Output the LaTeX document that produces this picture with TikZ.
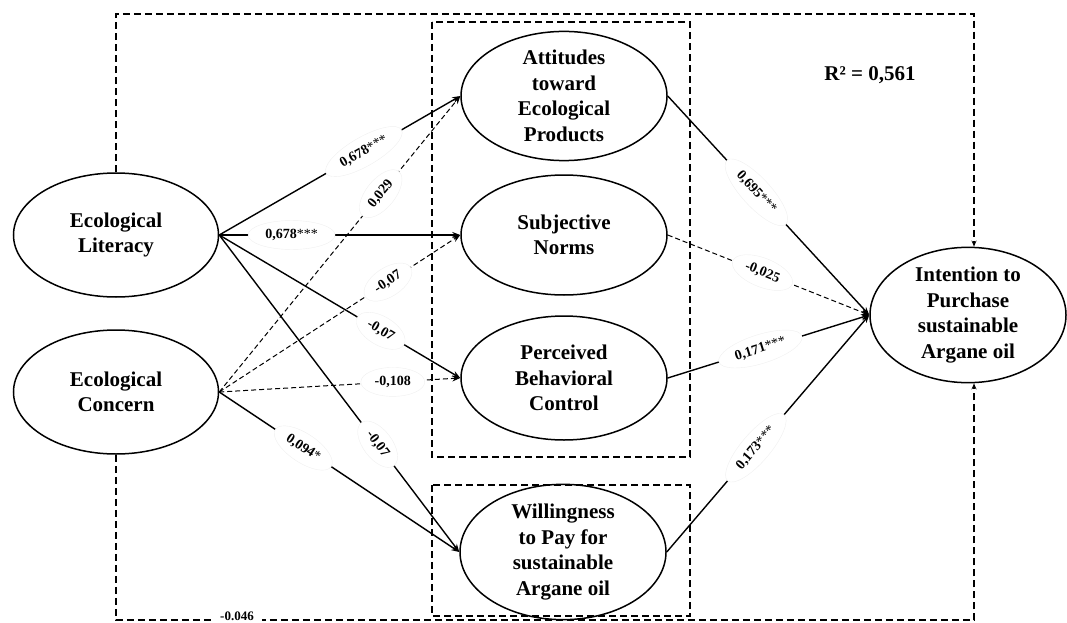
\documentclass[tikz,border=0pt]{standalone}
\usepackage{fontspec}
\setmainfont{Liberation Serif}
\usetikzlibrary{shapes.geometric,arrows.meta}
\begin{document}
\begin{tikzpicture}[x=1pt,y=-1pt,
  lat/.style={ellipse, draw, line width=1.5pt, inner sep=0pt, align=center,
    font=\fontsize{21}{25.5}\selectfont\bfseries},
  lbl/.style={ellipse, fill=white, draw=black!6, line width=0.4pt, inner sep=4.5pt,
    font=\fontsize{14}{16}\selectfont\bfseries},
  sol/.style={line width=1.4pt, -{Stealth[length=8pt,width=6pt]}},
  dsh/.style={line width=1pt, dash pattern=on 5pt off 3pt, -{Stealth[length=8pt,width=6pt]}},
  outer/.style={line width=1.3pt, dash pattern=on 7pt off 4pt},
  grp/.style={draw, line width=1.3pt, dash pattern=on 7pt off 4pt}
]
\useasboundingbox (0,0) rectangle (1067,623);
\newcommand{\st}{{\mdseries***}}

% latent variables
\node[lat, minimum width=205, minimum height=124] (L) at (116,235) {Ecological\\Literacy};
\node[lat, minimum width=205, minimum height=124] (C) at (116,392) {Ecological\\Concern};
\node[lat, minimum width=206, minimum height=128] (ATT) at (564,96) {Attitudes\\toward\\Ecological\\Products};
\node[lat, minimum width=206, minimum height=120] (SN) at (564,235) {Subjective\\Norms};
\node[lat, minimum width=206, minimum height=124] (PBC) at (564,378) {Perceived\\Behavioral\\Control};
\node[lat, minimum width=206, minimum height=124] (WTP) at (563,552) {Willingness\\to Pay for\\sustainable\\Argane oil};
\node[lat, minimum width=196, minimum height=124] (INT) at (968,315) {Intention to\\Purchase\\sustainable\\Argane oil};

\coordinate (tr) at (974,14);
\coordinate (br) at (974,620);

% connectors
\draw[sol] (L.east) -- (ATT.west);
\draw[sol] (L.east) -- (SN.west);
\draw[sol] (L.east) -- (PBC.west);
\draw[sol] (L.east) -- (WTP.west);
\draw[dsh] (C.east) -- (ATT.west);
\draw[dsh] (C.east) -- (SN.west);
\draw[dsh] (C.east) -- (PBC.west);
\draw[sol] (C.east) -- (WTP.west);
\draw[sol] (ATT.east) -- (INT.west);
\draw[dsh] (SN.east) -- (INT.west);
\draw[sol] (PBC.east) -- (INT.west);
\draw[sol] (WTP.east) -- (INT.west);
\draw[outer, -{Stealth[length=6pt,width=5pt]}] (L.north) |- (tr) -- (tr |- INT.north);
\draw[outer, -{Stealth[length=6pt,width=5pt]}] (C.south) |- (br) -- (br |- INT.south);

% labels
\path (L.east) -- node[lbl, pos=0.6, sloped] (l1) {0,678\st} (ATT.west);
\path (L.east) -- node[lbl, pos=0.3] (l2) {0,678\st} (SN.west);
\path (L.east) -- node[lbl, pos=0.67, sloped] (l3) {-0,07} (PBC.west);
\path (L.east) -- node[lbl, pos=0.66, sloped] (l4) {-0,07} (WTP.west);
\path (C.east) -- node[lbl, pos=0.67, sloped] (l5) {0,029} (ATT.west);
\path (C.east) -- node[lbl, pos=0.7, sloped] (l6) {-0,07} (SN.west);
\path (C.east) -- node[lbl, pos=0.72] (l7) {-0,108} (PBC.west);
\path (C.east) -- node[lbl, pos=0.35, sloped] (l8) {0,094{\mdseries*}} (WTP.west);
\path (ATT.east) -- node[lbl, pos=0.44, sloped] (l9) {0,695\st} (INT.west);
\path (SN.east) -- node[lbl, pos=0.47, sloped] (l10) {-0,025} (INT.west);
\path (PBC.east) -- node[lbl, pos=0.46, sloped] (l11) {0,171\st} (INT.west);
\path (WTP.east) -- node[lbl, pos=0.44, sloped] (l12) {0,173\st} (INT.west);
\node[fill=white, inner xsep=8pt, inner ysep=1pt, font=\fontsize{13}{15}\selectfont\bfseries] (l13) at (237,616) {-0.046};

% groups
\draw[grp] (432,22) rectangle (690,457);
\draw[grp] (432,485) rectangle (690,616);

\node[font=\fontsize{21}{24}\selectfont\bfseries] (r2) at (870,75) {R² = 0,561};
\end{tikzpicture}
\end{document}
